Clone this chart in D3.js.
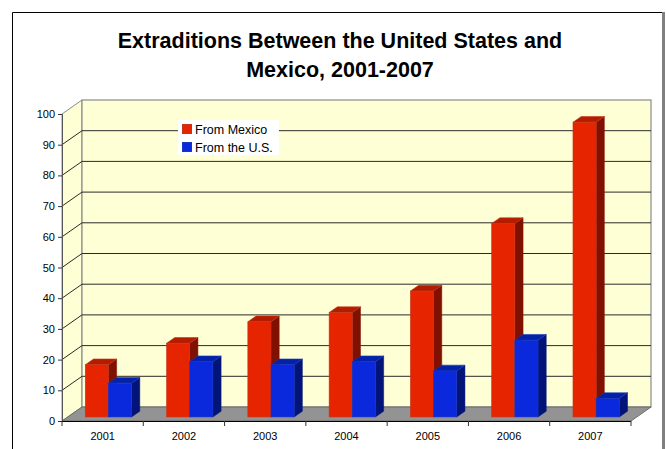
<!DOCTYPE html>
<html>
<head>
<meta charset="utf-8">
<script src="https://cdn.jsdelivr.net/npm/d3@7"></script>
<style>
  html, body { margin: 0; padding: 0; background: #ffffff; }
  svg { display: block; }
  text { font-family: "Liberation Sans", Arial, sans-serif; }
</style>
</head>
<body>
<div id="chart"></div>
<script>
// Extraditions between the United States and Mexico
const years = ["2001", "2002", "2003", "2004", "2005", "2006", "2007"];
const fromMexico = [17, 24, 31, 34, 41, 63, 96];
const fromUS = [11, 18, 17, 18, 15, 25, 6];
const seriesNames = ["From Mexico", "From the U.S."];
const yTicks = [0, 10, 20, 30, 40, 50, 60, 70, 80, 90, 100];
const titleLines = ["Extraditions Between the United States and", "Mexico, 2001-2007"];

(function () {
const W = 666, H = 449;
const svg = d3.select("#chart").append("svg").attr("width", W).attr("height", H);

// frame
svg.append("line").attr("x1", 12.5).attr("y1", 12.5).attr("x2", 663).attr("y2", 12.5)
  .attr("stroke", "#000").attr("stroke-width", 1);
svg.append("line").attr("x1", 12.5).attr("y1", 12.5).attr("x2", 12.5).attr("y2", H)
  .attr("stroke", "#000").attr("stroke-width", 1);
svg.append("line").attr("x1", 663.5).attr("y1", 12).attr("x2", 663.5).attr("y2", H)
  .attr("stroke", "#808080").attr("stroke-width", 3);

// title
svg.append("g").selectAll("text").data(titleLines).join("text")
  .attr("x", 340).attr("y", (d, i) => 48 + i * 29)
  .attr("text-anchor", "middle")
  .attr("font-size", 21.5).attr("font-weight", "bold").attr("fill", "#000")
  .text(d => d);

// 3D plot geometry: front plane and depth offset
const pLeft = 62, pRight = 631, pBottom = 421, pTop = 114;
const DX = 20, DY = -14;

const x = d3.scaleBand().domain(years).range([pLeft, pRight]).paddingInner(0).paddingOuter(0);
const y = d3.scaleLinear().domain([0, 100]).range([pBottom, pTop]);

const wallFill = "#ffffd6";
const edge = "#8a8a8a";

// side wall (left)
const g = svg.append("g");
g.append("path")
  .attr("d", `M${pLeft},${y(0)} L${pLeft + DX},${y(0) + DY} L${pLeft + DX},${y(100) + DY} L${pLeft},${y(100)} Z`)
  .attr("fill", wallFill).attr("stroke", edge).attr("stroke-width", 1);
// back wall
g.append("rect")
  .attr("x", pLeft + DX).attr("y", y(100) + DY)
  .attr("width", pRight - pLeft).attr("height", y(0) - y(100))
  .attr("fill", wallFill).attr("stroke", edge).attr("stroke-width", 1.2);
// floor
g.append("path")
  .attr("d", `M${pLeft},${y(0)} L${pRight},${y(0)} L${pRight + DX},${y(0) + DY} L${pLeft + DX},${y(0) + DY} Z`)
  .attr("fill", "#939393").attr("stroke", "#6a6a6a").attr("stroke-width", 1);

// gridlines on back and side walls
const grid = yTicks.filter(v => v > 0 && v < 100);
g.selectAll(".gb").data(grid).join("line")
  .attr("x1", pLeft + DX).attr("x2", pRight + DX)
  .attr("y1", d => y(d) + DY).attr("y2", d => y(d) + DY)
  .attr("stroke", "#2a2a2a").attr("stroke-width", 1);
g.selectAll(".gs").data(grid).join("line")
  .attr("x1", pLeft).attr("x2", pLeft + DX)
  .attr("y1", d => y(d)).attr("y2", d => y(d) + DY)
  .attr("stroke", "#2a2a2a").attr("stroke-width", 1);

// bars sit part-way into the depth of the plot
const bz0 = 0.29, bz = 0.41;
const bx0 = DX * bz0, by0 = DY * bz0;
const bdx = DX * bz, bdy = DY * bz;
const groupFrac = 0.57;
const sub = d3.scaleBand().domain([0, 1]).range([0, x.bandwidth() * groupFrac]);

const palettes = [
  { front: "#e62400", top: "#b41c00", side: "#801100", stroke: "#c2361c" },
  { front: "#0a28dc", top: "#0422a8", side: "#021478", stroke: "#1a36c0" }
];

const bars = years.flatMap((yr, i) => [
  { yr, s: 0, v: fromMexico[i] },
  { yr, s: 1, v: fromUS[i] }
]);

const barG = svg.append("g");
bars.forEach(b => {
  const p = palettes[b.s];
  const x0 = x(b.yr) + (x.bandwidth() - sub.range()[1]) / 2 + sub(b.s) + bx0;
  const w = sub.bandwidth();
  const yb = y(0) + by0;
  const yt = y(b.v) + by0;
  // side face
  barG.append("path")
    .attr("d", `M${x0 + w},${yb} L${x0 + w + bdx},${yb + bdy} L${x0 + w + bdx},${yt + bdy} L${x0 + w},${yt} Z`)
    .attr("fill", p.side).attr("stroke", p.side).attr("stroke-width", 0.5);
  // top face
  barG.append("path")
    .attr("d", `M${x0},${yt} L${x0 + bdx},${yt + bdy} L${x0 + w + bdx},${yt + bdy} L${x0 + w},${yt} Z`)
    .attr("fill", p.top).attr("stroke", p.stroke).attr("stroke-width", 0.6);
  // front face
  barG.append("rect")
    .attr("x", x0).attr("y", yt).attr("width", w).attr("height", yb - yt)
    .attr("fill", p.front).attr("stroke", p.stroke).attr("stroke-width", 0.6);
});

// y axis
const yAxis = d3.axisLeft(y).tickValues(yTicks).tickSize(4).tickPadding(3);
const ya = svg.append("g").attr("transform", `translate(${pLeft},0)`).call(yAxis);
ya.select(".domain").attr("stroke", "#555");
ya.selectAll(".tick line").attr("stroke", "#333");
ya.selectAll(".tick text").attr("font-size", 11).attr("fill", "#000")
  .attr("font-family", "'Liberation Sans', Arial, sans-serif");

// x axis: ticks at category boundaries
const xa = svg.append("g");
xa.append("line").attr("x1", pLeft).attr("x2", pRight).attr("y1", pBottom + 0.5).attr("y2", pBottom + 0.5)
  .attr("stroke", "#000").attr("stroke-width", 1.2);
const bounds = years.map(d => x(d)).concat([pRight]);
xa.selectAll(".xt").data(bounds).join("line")
  .attr("x1", d => d).attr("x2", d => d)
  .attr("y1", pBottom).attr("y2", pBottom + 5)
  .attr("stroke", "#333");
xa.selectAll(".xl").data(years).join("text")
  .attr("x", d => x(d) + x.bandwidth() / 2).attr("y", 440)
  .attr("text-anchor", "middle").attr("font-size", 11).attr("fill", "#000")
  .text(d => d);

// legend
const lg = svg.append("g").attr("transform", "translate(178,120)");
lg.append("rect").attr("width", 101).attr("height", 35).attr("fill", "#fff");
lg.selectAll(".sw").data(seriesNames).join("rect")
  .attr("x", 4.5).attr("y", (d, i) => 4.5 + i * 18)
  .attr("width", 9).attr("height", 9)
  .attr("fill", (d, i) => palettes[i].front).attr("stroke", (d, i) => palettes[i].stroke);
lg.selectAll(".lt").data(seriesNames).join("text")
  .attr("x", 17).attr("y", (d, i) => 13.5 + i * 18)
  .attr("font-size", 12.5).attr("fill", "#000")
  .text(d => d);
})();
</script>
</body>
</html>
